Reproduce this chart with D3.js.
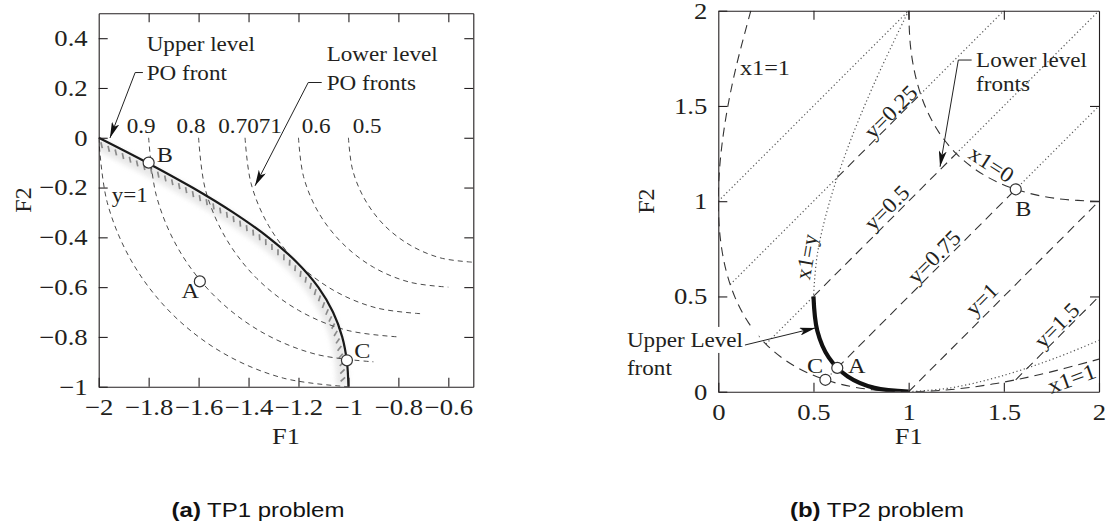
<!DOCTYPE html>
<html><head><meta charset="utf-8">
<script src="https://cdn.jsdelivr.net/npm/d3@7/dist/d3.min.js"></script>
<style>html,body{margin:0;padding:0;background:#fff}svg{display:block}</style>
</head><body>
<svg id="chart" width="1110" height="524" xmlns="http://www.w3.org/2000/svg"></svg>
<script>
// ================= DATA =================
// ---- (a) TP1 ----
const tp1XTicks = [-2, -1.8, -1.6, -1.4, -1.2, -1, -0.8, -0.6];
const tp1YTicks = [-1, -0.8, -0.6, -0.4, -0.2, 0, 0.2, 0.4];
// lower level PO fronts (F1, F2) for y = 1, 0.9, 0.8, 0.7071, 0.6, 0.5
const tp1Lower_y1    = [[-2,0],[-1.966,-0.259],[-1.866,-0.5],[-1.707,-0.707],[-1.5,-0.866],[-1.259,-0.966],[-1,-1]];
const tp1Lower_y09   = [[-1.8,0],[-1.769,-0.233],[-1.679,-0.45],[-1.536,-0.636],[-1.35,-0.779],[-1.133,-0.869],[-0.9,-0.9]];
const tp1Lower_y08   = [[-1.6,0],[-1.573,-0.207],[-1.493,-0.4],[-1.366,-0.566],[-1.2,-0.693],[-1.007,-0.773],[-0.8,-0.8]];
const tp1Lower_y0707 = [[-1.414,0],[-1.39,-0.183],[-1.319,-0.354],[-1.207,-0.5],[-1.061,-0.612],[-0.89,-0.683],[-0.707,-0.707]];
const tp1Lower_y06   = [[-1.2,0],[-1.18,-0.155],[-1.12,-0.3],[-1.024,-0.424],[-0.9,-0.52],[-0.755,-0.58],[-0.6,-0.6]];
const tp1Lower_y05   = [[-1,0],[-0.983,-0.13],[-0.933,-0.25],[-0.854,-0.354],[-0.75,-0.433],[-0.63,-0.483],[-0.5,-0.5]];
const tp1LowerLabels = ["0.9", "0.8", "0.7071", "0.6", "0.5"];
const tp1LowerLabelPos = [[-1.888,0.018],[-1.688,0.018],[-1.521,0.018],[-1.187,0.018],[-0.983,0.018]];
// upper level PO front
const tp1Upper = [[-2,0],[-1.806,-0.1],[-1.625,-0.2],[-1.462,-0.3],[-1.321,-0.4],[-1.207,-0.5],[-1.121,-0.6],[-1.062,-0.7],[-1.025,-0.8],[-1.006,-0.9],[-1,-1]];
const tp1PointNames = ["B", "A", "C"];
const tp1Points = [[-1.8,-0.1],[-1.595,-0.577],[-1.006,-0.894]];
const tp1PointLabelPos = [[-1.768,-0.099],[-1.668,-0.645],[-0.977,-0.885]];

// ---- (b) TP2 ----
const tp2Ticks = [0, 0.5, 1, 1.5, 2];
const tp2CurveX1eq1 = [[0.171,2],[0.09,1.69],[0.04,1.44],[0.01,1.21],[0,1],[0.01,0.81],[0.04,0.64],[0.09,0.49],[0.16,0.36],[0.25,0.25],[0.36,0.16],[0.49,0.09],[0.64,0.04],[0.81,0.01],[1,0],[1.21,0.01],[1.44,0.04],[1.69,0.09],[2,0.171]];
const tp2CurveX1eq0 = [[1,2],[1.01,1.81],[1.04,1.64],[1.09,1.49],[1.16,1.36],[1.25,1.25],[1.36,1.16],[1.49,1.09],[1.64,1.04],[1.81,1.01],[2,1]];
const tp2CurveX1eqYTop = [[1,2],[0.82,1.62],[0.68,1.28],[0.58,0.98],[0.52,0.72],[0.5,0.5]];
const tp2CurveX1eqYRight = [[1,0],[1.22,0.02],[1.48,0.08],[1.78,0.18],[2.01,0.274]];
const tp2UpperFront = [[0.5,0.5],[0.52,0.32],[0.58,0.18],[0.68,0.08],[0.82,0.02],[1,0]];
// lower-level fronts (diagonal lines): dashed parts and dotted extensions
const tp2DashedSegs = [
  [[0.625,1.125],[1.0625,1.5625]],   // y=0.25
  [[0.5,0.5],[1.25,1.25]],           // y=0.5
  [[0.625,0.125],[1.5625,1.0625]],   // y=0.75
  [[1,0],[2,1]],                     // y=1
  [[1.5625,0.0625],[2,0.5]]          // y=1.5
];
const tp2DottedSegs = [
  [[0,1],[1,2]],
  [[0.0625,0.5625],[0.625,1.125]], [[1.0625,1.5625],[1.5,2]],
  [[0.25,0.25],[0.5,0.5]], [[1.25,1.25],[2,2]],
  [[0.5625,0.0625],[0.625,0.125]], [[1.5625,1.0625],[2,1.5]]
];
const tp2Labels = ["y=0.25", "y=0.5", "y=0.75", "y=1", "y=1.5", "x1=1", "x1=0", "x1=y"];
const tp2LabelPos = [[0.905,1.47],[0.884,0.967],[1.132,0.709],[1.383,0.486],[1.777,0.35],[1.856,0.07],[1.436,1.195],[0.462,0.709]];
const tp2LabelRot = [-45, -45, -45, -45, -45, -20, 33, -80];
const tp2PointNames = ["B", "A", "C"];
const tp2Points = [[1.5625,1.0625],[0.625,0.125],[0.5625,0.0625]];
const tp2PointLabelPos = [[1.602,0.963],[0.727,0.14],[0.508,0.14]];

// ================= DRAW =================
const SERIF = "'Liberation Serif','Times New Roman',serif";
const INK = "#231f20";
const svg = d3.select("#chart");
const defs = svg.append("defs");

defs.append("marker").attr("id","ah").attr("viewBox","0 0 16 8")
  .attr("refX",16).attr("refY",4).attr("markerWidth",16).attr("markerHeight",8)
  .attr("markerUnits","userSpaceOnUse").attr("orient","auto")
  .append("path").attr("d","M0,0 L16,4 L0,8 L4,4 Z").attr("fill","#111");
defs.append("filter").attr("id","blur").attr("x","-20%").attr("y","-20%").attr("width","140%").attr("height","140%")
  .append("feGaussianBlur").attr("stdDeviation",2.5);

// horizontal glyph stretch of the reference image
function stretchNode(node, rot, S){
  const w = node.getComputedTextLength();
  const a = rot*Math.PI/180;
  const f = Math.hypot(S*Math.cos(a), Math.sin(a));
  node.setAttribute("textLength", w*f);
  node.setAttribute("lengthAdjust","spacingAndGlyphs");
}
function addText(g, s, px, py, o={}){
  const rot = o.rot||0;
  const t = g.append("text")
    .attr("transform",`translate(${px},${py}) rotate(${rot})`)
    .attr("text-anchor",o.anchor||"start")
    .attr("dy",o.dy||0)
    .attr("font-family",o.family||SERIF)
    .attr("font-size",o.size||21)
    .attr("fill",INK).text(s);
  stretchNode(t.node(), rot, o.S||1.1);
  return t;
}
function drawAxes(g, x, y, xt, yt){
  const [x0,x1] = x.range(), [y0,y1] = y.range();
  const fmt = d3.format("");
  const [dx0,dx1] = x.domain(), [dy0,dy1] = y.domain();
  const bottom = g.append("g").attr("transform",`translate(0,${y0})`)
    .call(d3.axisBottom(x).tickValues(xt).tickSize(-9).tickSizeOuter(0).tickPadding(12).tickFormat(fmt));
  const top = g.append("g").attr("transform",`translate(0,${y1})`)
    .call(d3.axisTop(x).tickValues(xt.filter(v=>v>dx0&&v<dx1)).tickSize(-9).tickSizeOuter(0).tickFormat(""));
  const left = g.append("g").attr("transform",`translate(${x0},0)`)
    .call(d3.axisLeft(y).tickValues(yt).tickSize(-9).tickSizeOuter(0).tickPadding(11).tickFormat(fmt));
  const right = g.append("g").attr("transform",`translate(${x1},0)`)
    .call(d3.axisRight(y).tickValues(yt.filter(v=>v>dy0&&v<dy1)).tickSize(-9).tickSizeOuter(0).tickFormat(""));
  [bottom,top,left,right].forEach(a=>{
    a.selectAll("path,line").attr("stroke",INK).attr("stroke-width",1.1);
    a.selectAll("text").attr("font-family",SERIF).attr("font-size",23).attr("fill",INK);
  });
  bottom.selectAll("text").each(function(){stretchNode(this,0,1.16);});
  left.selectAll("text").each(function(){stretchNode(this,0,1.16);});
}
function clip(id, x, y){
  defs.append("clipPath").attr("id",id).append("rect")
    .attr("x",x.range()[0]).attr("y",y.range()[1])
    .attr("width",x.range()[1]-x.range()[0]).attr("height",y.range()[0]-y.range()[1]);
}

// ---------- Panel (a) ----------
const xL = d3.scaleLinear([-2,-0.5],[98.7,473.3]);
const yL = d3.scaleLinear([-1,0.5],[386.7,13.3]);
clip("clipL", xL, yL);
const gL = svg.append("g");
const lineL = d3.line().x(d=>xL(d[0])).y(d=>yL(d[1])).curve(d3.curveCatmullRom.alpha(0.5));
const straightL = d3.line().x(d=>xL(d[0])).y(d=>yL(d[1]));
const plotL = gL.append("g").attr("clip-path","url(#clipL)");
const bandG = plotL.append("g");
const hatchG = plotL.append("g");
const arcsG = plotL.append("g");
[tp1Lower_y1, tp1Lower_y09, tp1Lower_y08, tp1Lower_y0707, tp1Lower_y06, tp1Lower_y05].forEach(a=>{
  arcsG.append("path").attr("d",lineL(a)).attr("fill","none")
    .attr("stroke","#4a4a4a").attr("stroke-width",1).attr("stroke-dasharray","5,4");
});
const front = plotL.append("path").attr("d",lineL(tp1Upper)).attr("fill","none")
  .attr("stroke","#1a1a1a").attr("stroke-width",2.2);
// constraint shading + hatch on the infeasible (lower-left) side
(function(){
  const n = front.node(), L = n.getTotalLength();
  const band = [];
  const frame = (s)=>{
    const p = n.getPointAtLength(s);
    const p1 = n.getPointAtLength(Math.max(0,s-1)), p2 = n.getPointAtLength(Math.min(L,s+1));
    let tx=p2.x-p1.x, ty=p2.y-p1.y; const m=Math.hypot(tx,ty)||1; tx/=m; ty/=m;
    return {p, tx, ty, nx:-ty, ny:tx};
  };
  for(let s=0;s<=L;s+=2){ const f=frame(s); band.push([f.p.x+f.nx*6, f.p.y+f.ny*6]); }
  bandG.append("path").attr("d",d3.line()(band)).attr("fill","none")
    .attr("stroke","#e3e3e3").attr("stroke-width",12).attr("opacity",0.8).attr("filter","url(#blur)");
  const a = 40*Math.PI/180;
  for(let s=4;s<L-2;s+=8){
    const f=frame(s);
    const dx = Math.cos(a)*f.nx + Math.sin(a)*f.tx, dy = Math.cos(a)*f.ny + Math.sin(a)*f.ty;
    const sx=f.p.x+f.nx*3, sy=f.p.y+f.ny*3;
    hatchG.append("line").attr("x1",sx).attr("y1",sy).attr("x2",sx+dx*6).attr("y2",sy+dy*6)
      .attr("stroke","#8a8a8a").attr("stroke-width",1.7);
  }
})();
drawAxes(gL, xL, yL, tp1XTicks, tp1YTicks);
tp1Points.forEach(p=>{
  gL.append("circle").attr("cx",xL(p[0])).attr("cy",yL(p[1])).attr("r",5.5)
    .attr("fill","#fff").attr("stroke","#333").attr("stroke-width",1.2);
});
tp1PointNames.forEach((s,i)=>addText(gL, s, xL(tp1PointLabelPos[i][0]), yL(tp1PointLabelPos[i][1]), {size:22}));
tp1LowerLabels.forEach((s,i)=>addText(gL, s, xL(tp1LowerLabelPos[i][0]), yL(tp1LowerLabelPos[i][1]), {size:21}));
addText(gL, "y=1", xL(-1.948), yL(-0.259), {size:21});
addText(gL, "Upper level", xL(-1.808), yL(0.349));
addText(gL, "PO front", xL(-1.808), yL(0.233));
addText(gL, "Lower level", xL(-1.087), yL(0.309));
addText(gL, "PO fronts", xL(-1.087), yL(0.193));
gL.append("path").attr("d",straightL([[-1.823,0.262],[-1.854,0.262],[-1.955,-0.001]]))
  .attr("fill","none").attr("stroke","#222").attr("stroke-width",1).attr("marker-end","url(#ah)");
gL.append("path").attr("d",straightL([[-1.107,0.222],[-1.161,0.222],[-1.374,-0.193]]))
  .attr("fill","none").attr("stroke","#222").attr("stroke-width",1).attr("marker-end","url(#ah)");
addText(gL, "F1", xL(-1.25), 444, {size:24, anchor:"middle"});
addText(gL, "F2", 22.5, yL(-0.25), {size:24, anchor:"middle", rot:-90, dy:"0.35em"});

// ---------- Panel (b) ----------
const xR = d3.scaleLinear([0,2],[718.3,1099]);
const yR = d3.scaleLinear([0,2],[391.7,10.7]);
clip("clipR", xR, yR);
const gR = svg.append("g");
const lineR = d3.line().x(d=>xR(d[0])).y(d=>yR(d[1])).curve(d3.curveCatmullRom.alpha(0.5));
const straightR = d3.line().x(d=>xR(d[0])).y(d=>yR(d[1]));
const plotR = gR.append("g").attr("clip-path","url(#clipR)");
const DOT = {stroke:"#555", w:1.2, dash:"1.2,2.6"};
const DASH = {stroke:"#333", w:1.1, dash:"9,6"};
function styled(path, st){ return path.attr("fill","none").attr("stroke",st.stroke).attr("stroke-width",st.w).attr("stroke-dasharray",st.dash); }
tp2DottedSegs.forEach(s=>styled(plotR.append("path").attr("d",straightR(s)), DOT));
styled(plotR.append("path").attr("d",lineR(tp2CurveX1eqYTop)), DOT);
styled(plotR.append("path").attr("d",lineR(tp2CurveX1eqYRight)), DOT);
tp2DashedSegs.forEach(s=>styled(plotR.append("path").attr("d",straightR(s)), DASH));
styled(plotR.append("path").attr("d",lineR(tp2CurveX1eq1)), DASH);
styled(plotR.append("path").attr("d",lineR(tp2CurveX1eq0)), DASH);
plotR.append("path").attr("d",lineR(tp2UpperFront)).attr("fill","none")
  .attr("stroke","#111").attr("stroke-width",4.2);
drawAxes(gR, xR, yR, tp2Ticks, tp2Ticks);
tp2Points.forEach(p=>{
  gR.append("circle").attr("cx",xR(p[0])).attr("cy",yR(p[1])).attr("r",5.5)
    .attr("fill","#fff").attr("stroke","#333").attr("stroke-width",1.2);
});
tp2PointNames.forEach((s,i)=>addText(gR, s, xR(tp2PointLabelPos[i][0]), yR(tp2PointLabelPos[i][1]), {size:22, anchor:"middle", dy:"0.35em"}));
tp2Labels.forEach((s,i)=>addText(gR, s, xR(tp2LabelPos[i][0]), yR(tp2LabelPos[i][1]), {size:22, anchor:"middle", rot:tp2LabelRot[i], dy:"0.35em"}));
addText(gR, "x1=1", xR(0.114), yR(1.663), {size:22});
addText(gR, "Lower level", xR(1.354), yR(1.706));
addText(gR, "fronts", xR(1.354), yR(1.578));
gR.append("path").attr("d",straightR([[1.331,1.741],[1.261,1.741],[1.165,1.181]]))
  .attr("fill","none").attr("stroke","#222").attr("stroke-width",1).attr("marker-end","url(#ah)");
const ulBg = gR.append("rect").attr("fill","#fff");
const ul = addText(gR, "Upper Level", xR(-0.48), yR(0.235));
addText(gR, "front", xR(-0.48), yR(0.087));
const bb = ul.node().getBBox();
ulBg.attr("x", xR(-0.48)-2).attr("y", yR(0.235)+bb.y-1).attr("width", bb.width*1.1+6).attr("height", bb.height+2);
gR.append("path").attr("d",straightR([[0.14,0.245],[0.51,0.335]]))
  .attr("fill","none").attr("stroke","#222").attr("stroke-width",1).attr("marker-end","url(#ah)");
addText(gR, "F1", xR(1), 444, {size:24, anchor:"middle"});
addText(gR, "F2", 646, yR(1), {size:24, anchor:"middle", rot:-90, dy:"0.35em"});

// ---------- captions ----------
function caption(x, tag, rest){
  const t = svg.append("text").attr("x",x).attr("y",517).attr("text-anchor","middle")
    .attr("font-family","'Liberation Sans',Arial,sans-serif").attr("font-size",20.5).attr("fill","#111");
  t.append("tspan").attr("font-weight","bold").text(tag);
  t.append("tspan").text(rest);
  stretchNode(t.node(), 0, 1.17);
}
caption(258, "(a)", " TP1 problem");
caption(877, "(b)", " TP2 problem");
</script>
</body></html>
